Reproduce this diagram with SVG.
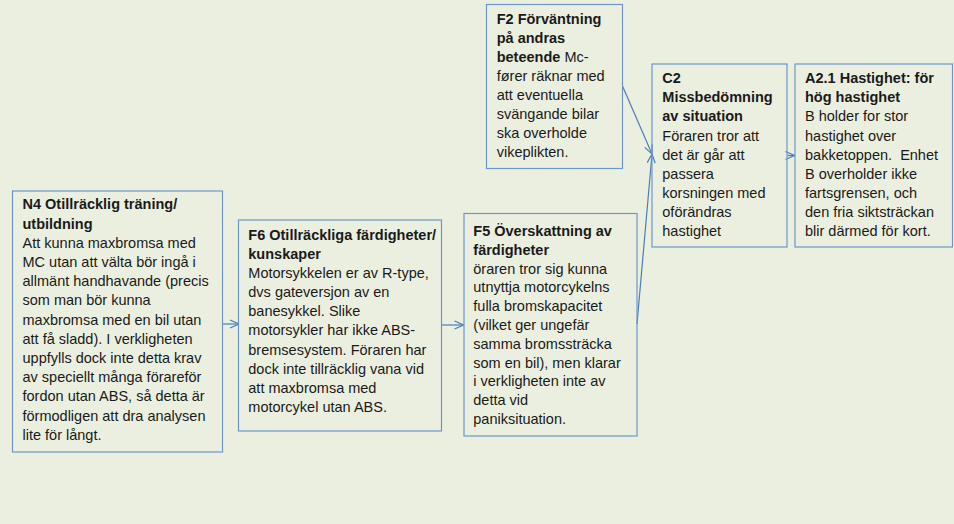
<svg xmlns="http://www.w3.org/2000/svg" width="954" height="524" viewBox="0 0 954 524">
  <style>
    .box { fill: none; stroke: #6F96CB; stroke-width: 1.2; }
    .t { font-family: "Liberation Sans", Arial, sans-serif; font-size: 14.5px; fill: #1a1a1a; white-space: pre; }
    .b { font-weight: bold; }
    .link { stroke: #4A7EBB; stroke-width: 1.2; fill: none; marker-end: url(#chev); }
  </style>
  <defs>
    <marker id="chev" viewBox="0 0 10 10" refX="10" refY="5" markerWidth="10" markerHeight="10" markerUnits="userSpaceOnUse" orient="auto">
      <path d="M1,1 L10,5 L1,9" fill="none" stroke="#4A7EBB" stroke-width="1.2"/>
    </marker>
  </defs>

  <rect x="0" y="0" width="954" height="524" fill="#EBEFDF"/>

  <g id="connectors">
    <line class="link" x1="223" y1="324" x2="239" y2="324"/>
    <line class="link" x1="441.5" y1="325" x2="463.5" y2="325"/>
    <line class="link" x1="622.5" y1="86" x2="652" y2="154"/>
    <line class="link" x1="637" y1="324" x2="652" y2="154"/>
    <line class="link" x1="787.5" y1="155.5" x2="794.5" y2="155.5"/>
  </g>

  <g id="N4">
    <rect class="box" x="12.5" y="191" width="210" height="261"/>
    <text class="t" x="22.5">
      <tspan class="b" x="22.5" y="209.3">N4 Otillräcklig träning/</tspan>
      <tspan class="b" x="22.5" y="228.5">utbildning</tspan>
      <tspan x="22.5" y="247.7">Att kunna maxbromsa med</tspan>
      <tspan x="22.5" y="266.9">MC utan att välta bör ingå i</tspan>
      <tspan x="22.5" y="286.1">allmänt handhavande (precis</tspan>
      <tspan x="22.5" y="305.3">som man bör kunna</tspan>
      <tspan x="22.5" y="324.5">maxbromsa med en bil utan</tspan>
      <tspan x="22.5" y="343.7">att få sladd). I verkligheten</tspan>
      <tspan x="22.5" y="362.9">uppfylls dock inte detta krav</tspan>
      <tspan x="22.5" y="382.1">av speciellt många förareför</tspan>
      <tspan x="22.5" y="401.3">fordon utan ABS, så detta är</tspan>
      <tspan x="22.5" y="420.5">förmodligen att dra analysen</tspan>
      <tspan x="22.5" y="439.7">lite för långt.</tspan>
    </text>
  </g>

  <g id="F6">
    <rect class="box" x="238.5" y="220" width="203" height="211"/>
    <text class="t">
      <tspan class="b" x="248.3" y="240">F6 Otillräckliga färdigheter/</tspan>
      <tspan class="b" x="248.3" y="259.1">kunskaper</tspan>
      <tspan x="248.3" y="278.2">Motorsykkelen er av R-type,</tspan>
      <tspan x="248.3" y="297.2">dvs gateversjon av en</tspan>
      <tspan x="248.3" y="316.3">banesykkel. Slike</tspan>
      <tspan x="248.3" y="335.4">motorsykler har ikke ABS-</tspan>
      <tspan x="248.3" y="354.5">bremsesystem. Föraren har</tspan>
      <tspan x="248.3" y="373.6">dock inte tillräcklig vana vid</tspan>
      <tspan x="248.3" y="392.6">att maxbromsa med</tspan>
      <tspan x="248.3" y="411.7">motorcykel utan ABS.</tspan>
    </text>
  </g>

  <g id="F5">
    <rect class="box" x="464" y="213.5" width="173" height="222.5"/>
    <text class="t">
      <tspan class="b" x="473.3" y="236">F5 Överskattning av</tspan>
      <tspan class="b" x="473.3" y="254.8">färdigheter</tspan>
      <tspan x="473.3" y="273.6">öraren tror sig kunna</tspan>
      <tspan x="473.3" y="292.4">utnyttja motorcykelns</tspan>
      <tspan x="473.3" y="311.2">fulla bromskapacitet</tspan>
      <tspan x="473.3" y="330">(vilket ger ungefär</tspan>
      <tspan x="473.3" y="348.8">samma bromssträcka</tspan>
      <tspan x="473.3" y="367.6">som en bil), men klarar</tspan>
      <tspan x="473.3" y="386.4">i verkligheten inte av</tspan>
      <tspan x="473.3" y="405.2">detta vid</tspan>
      <tspan x="473.3" y="424">paniksituation.</tspan>
    </text>
  </g>

  <g id="F2">
    <rect class="box" x="486.5" y="4.5" width="136" height="164"/>
    <text class="t">
      <tspan class="b" x="496.7" y="24">F2 Förväntning</tspan>
      <tspan class="b" x="496.7" y="43">på andras</tspan>
      <tspan x="496.7" y="61.9"><tspan class="b">beteende</tspan> Mc-</tspan>
      <tspan x="496.7" y="80.9">fører räknar med</tspan>
      <tspan x="496.7" y="99.8">att eventuella</tspan>
      <tspan x="496.7" y="118.8">svängande bilar</tspan>
      <tspan x="496.7" y="137.7">ska overholde</tspan>
      <tspan x="496.7" y="156.7">vikeplikten.</tspan>
    </text>
  </g>

  <g id="C2">
    <rect class="box" x="652" y="64" width="135" height="183"/>
    <text class="t">
      <tspan class="b" x="662.3" y="83.3">C2</tspan>
      <tspan class="b" x="662.3" y="102.4">Missbedömning</tspan>
      <tspan class="b" x="662.3" y="121.4">av situation</tspan>
      <tspan x="662.3" y="140.5">Föraren tror att</tspan>
      <tspan x="662.3" y="159.5">det är går att</tspan>
      <tspan x="662.3" y="178.6">passera</tspan>
      <tspan x="662.3" y="197.6">korsningen med</tspan>
      <tspan x="662.3" y="216.7">oförändras</tspan>
      <tspan x="662.3" y="235.7">hastighet</tspan>
    </text>
  </g>

  <g id="A2.1">
    <rect class="box" x="795" y="64" width="157.5" height="183"/>
    <text class="t">
      <tspan class="b" x="805" y="83.3">A2.1 Hastighet: för</tspan>
      <tspan class="b" x="805" y="102.4">hög hastighet</tspan>
      <tspan x="805" y="121.4">B holder for stor</tspan>
      <tspan x="805" y="140.5">hastighet over</tspan>
      <tspan x="805" y="159.5">bakketoppen.  Enhet</tspan>
      <tspan x="805" y="178.6">B overholder ikke</tspan>
      <tspan x="805" y="197.6">fartsgrensen, och</tspan>
      <tspan x="805" y="216.7">den fria siktsträckan</tspan>
      <tspan x="805" y="235.7">blir därmed för kort.</tspan>
    </text>
  </g>
</svg>
